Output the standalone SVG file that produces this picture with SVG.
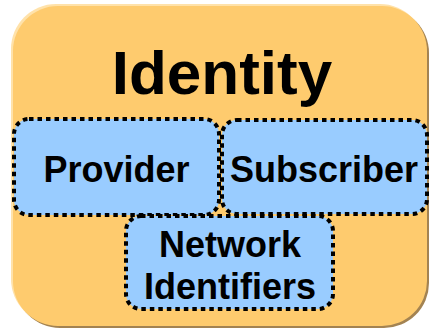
<svg xmlns="http://www.w3.org/2000/svg" width="430" height="331" viewBox="0 0 430 331">
<style>
.box{fill:#99CCFF;stroke:#000;stroke-width:4;stroke-dasharray:4.5 4}
.lbl{font-family:"Liberation Sans",Arial,sans-serif;font-weight:bold;font-size:36px;fill:#000;text-anchor:middle}
</style>
<g id="identity">
<rect x="15" y="8" width="414" height="320" rx="45" fill="#A38352"/>
<rect x="11" y="4" width="414" height="320" rx="45" fill="#FFE2AA"/>
<rect x="13" y="6" width="414" height="320" rx="45" fill="#FECB6E"/>
<text x="222" y="94" class="lbl" style="font-size:62px">Identity</text>
</g>
<g id="provider">
<rect x="14" y="119" width="205" height="96" rx="15" class="box"/>
<text x="116.5" y="182" class="lbl">Provider</text>
</g>
<g id="subscriber">
<rect x="222" y="120" width="205" height="94" rx="15" class="box"/>
<text x="324" y="182" class="lbl">Subscriber</text>
</g>
<g id="network">
<rect x="126" y="216" width="207" height="93" rx="15" class="box"/>
<text x="230" y="257" class="lbl">Network</text>
<text x="230" y="299" class="lbl">Identifiers</text>
</g>
<g id="connectors"/>
</svg>
